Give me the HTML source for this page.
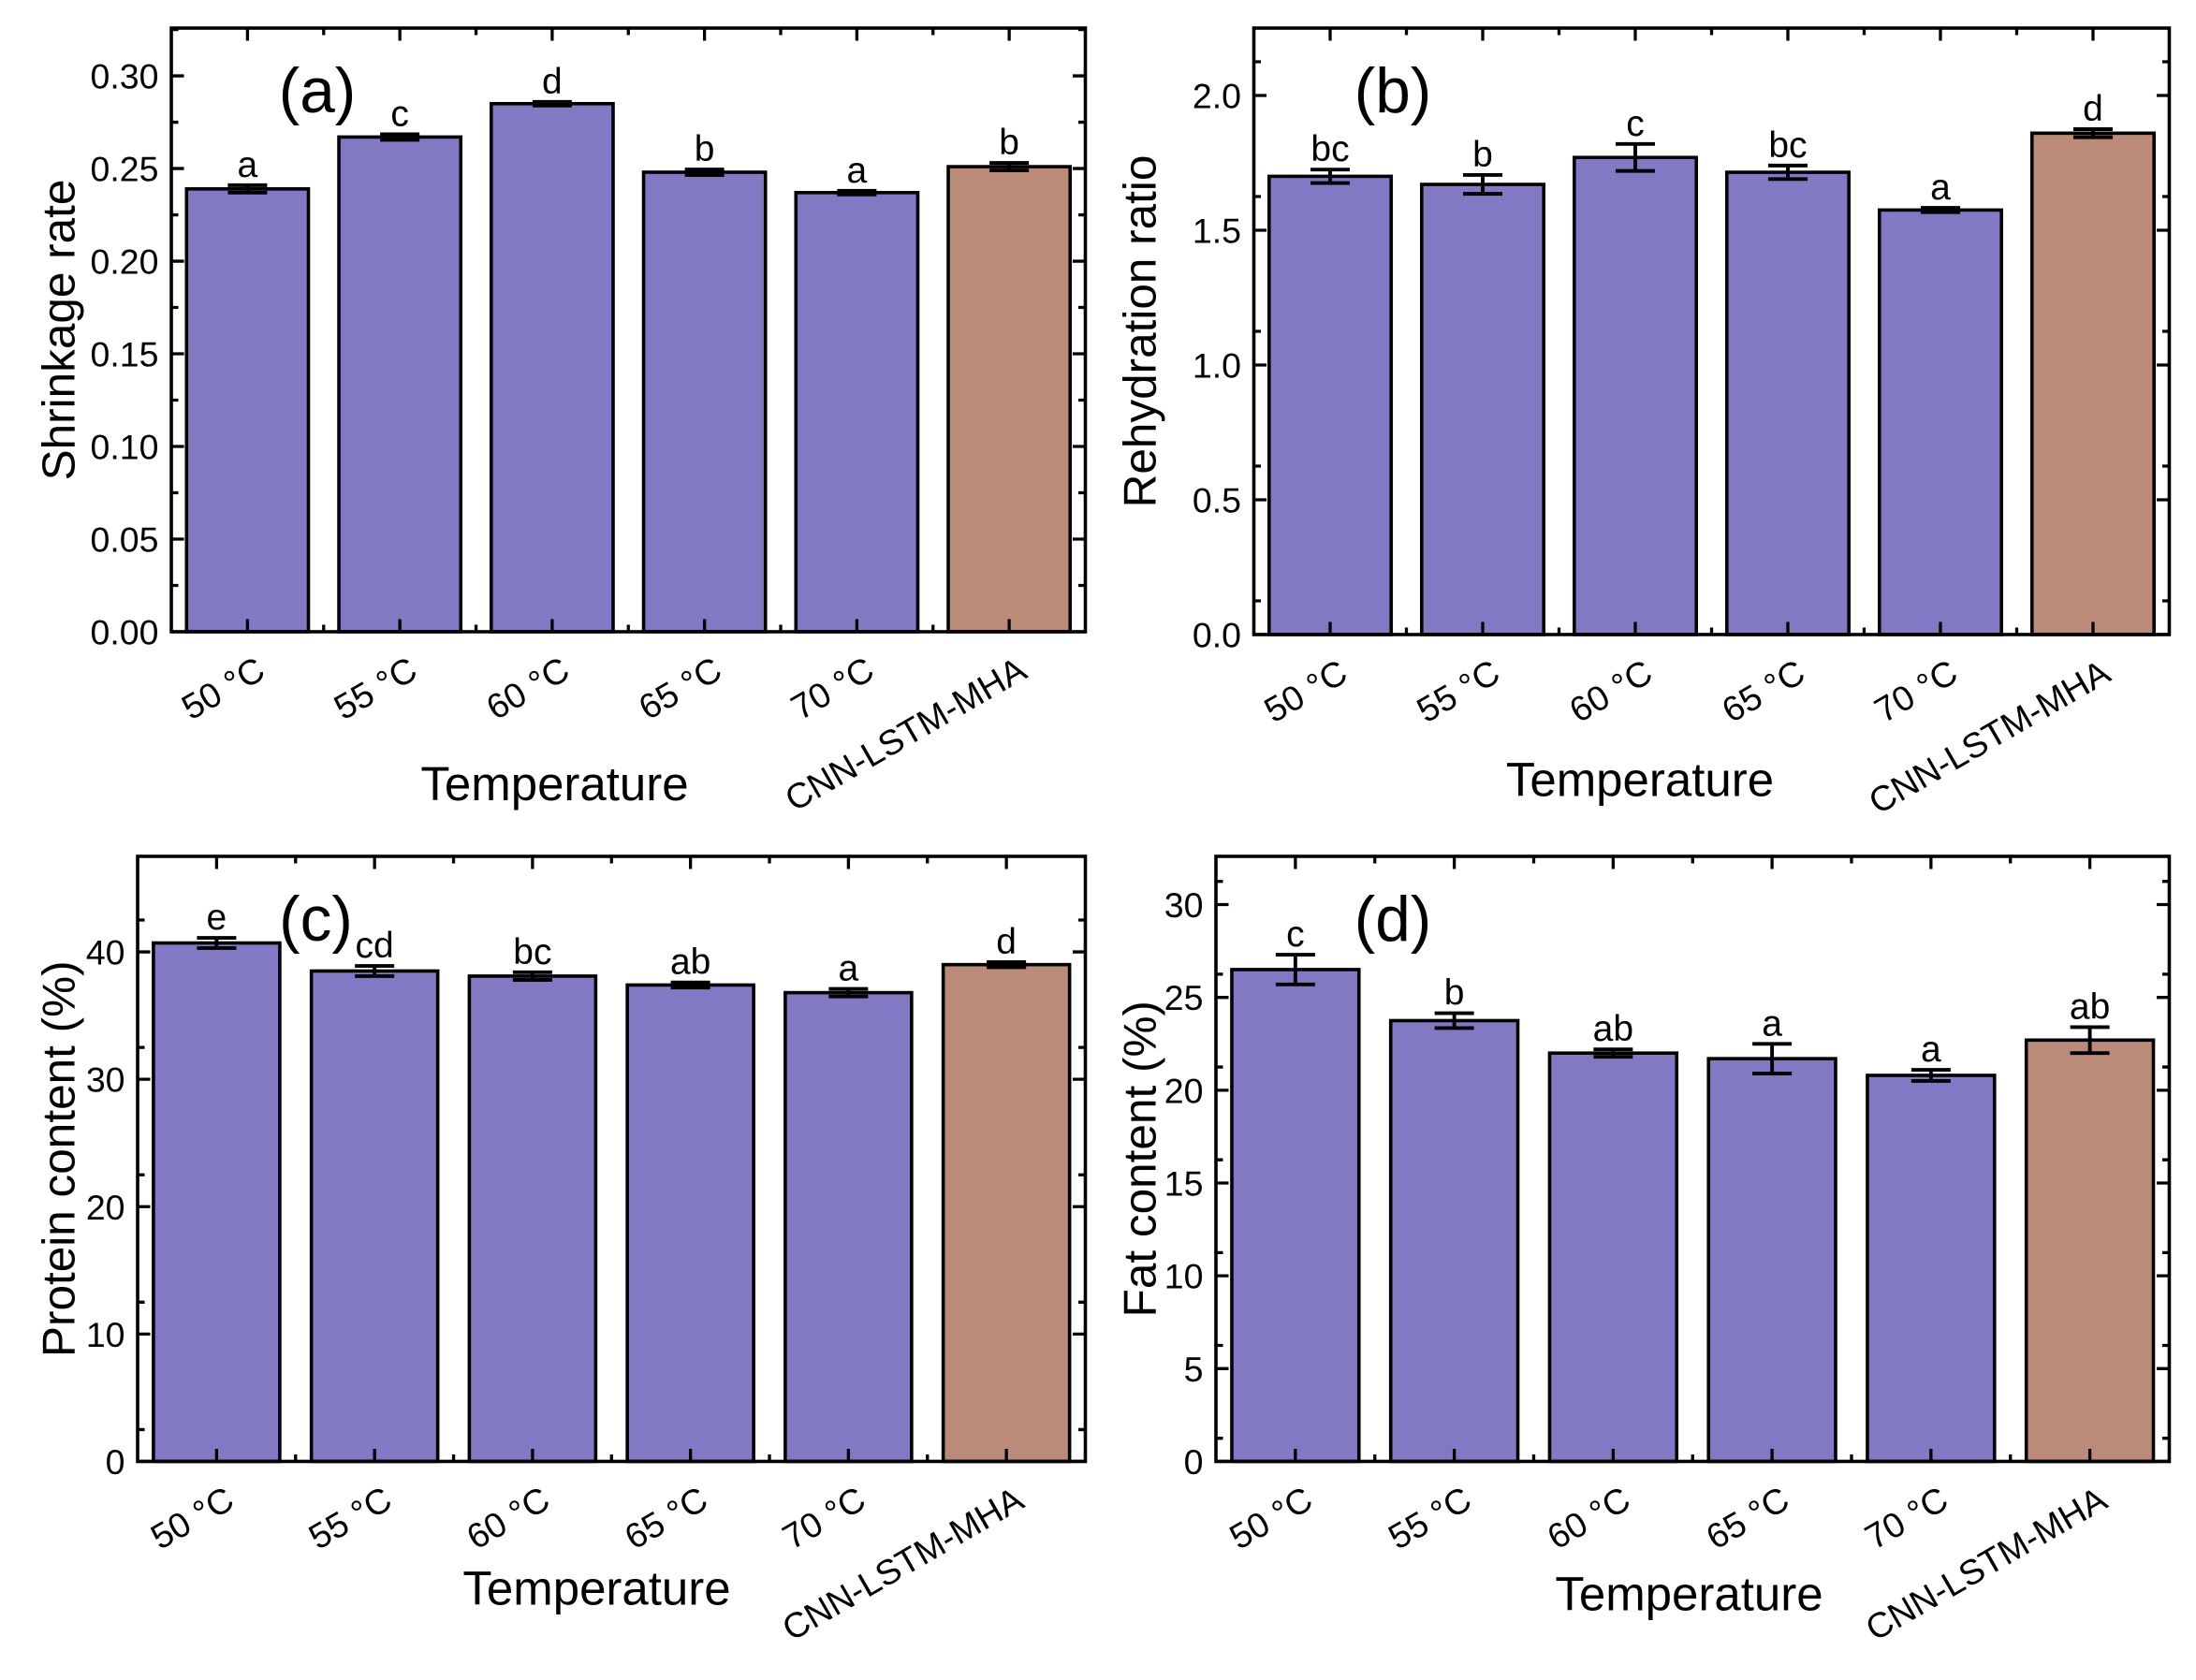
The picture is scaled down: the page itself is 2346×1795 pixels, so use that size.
<!DOCTYPE html>
<html><head><meta charset="utf-8">
<style>
html,body{margin:0;padding:0;background:#fff;}
svg{display:block;}
text{font-family:"Liberation Sans",Arial,sans-serif;fill:#000;}
</style></head>
<body>
<svg id="fig" width="2346" height="1795" viewBox="0 0 1564 1196.7" xmlns="http://www.w3.org/2000/svg"></svg>
<script>
const categories = ["50 °C","55 °C","60 °C","65 °C","70 °C","CNN-LSTM-MHA"];
const shrinkValues = [0.239,0.267,0.285,0.248,0.237,0.251];
const shrinkErrors = [0.002,0.0015,0.001,0.0015,0.001,0.002];
const shrinkLetters = ["a","c","d","b","a","b"];
const shrinkTicks = ["0.00","0.05","0.10","0.15","0.20","0.25","0.30"];
const rehydValues = [1.70,1.67,1.77,1.715,1.575,1.86];
const rehydErrors = [0.025,0.035,0.05,0.025,0.008,0.015];
const rehydLetters = ["bc","b","c","bc","a","d"];
const rehydTicks = ["0.0","0.5","1.0","1.5","2.0"];
const proteinValues = [40.7,38.5,38.1,37.4,36.8,39.0];
const proteinErrors = [0.4,0.4,0.3,0.2,0.3,0.2];
const proteinLetters = ["e","cd","bc","ab","a","d"];
const proteinTicks = ["0","10","20","30","40"];
const fatValues = [26.5,23.75,22.0,21.7,20.8,22.7];
const fatErrors = [0.8,0.4,0.2,0.8,0.3,0.7];
const fatLetters = ["c","b","ab","a","a","ab"];
const fatTicks = ["0","5","10","15","20","25","30"];

const NS="http://www.w3.org/2000/svg";
const svg=document.getElementById('fig');
function mk(tag,attrs,parent){const e=document.createElementNS(NS,tag);for(const k in attrs)e.setAttribute(k,attrs[k]);(parent||svg).appendChild(e);return e;}

function panel(cfg){
  const g=mk('g',{});
  
  
  const {x0,x1,y0,y1,ymax}=cfg;
  const ys=v=>y1-(v/ymax)*(y1-y0);
  const slot=(x1-x0)/categories.length;
  const xs=i=>x0+slot*(i+0.5);
  const bw=slot*0.8;
  categories.forEach((c,i)=>{
    const v=cfg.values[i];
    const r=mk('rect',{x:xs(i)-bw/2,y:ys(v),width:bw,height:y1-ys(v),fill:i===5?'#bb8a79':'#8279c4',stroke:'#000','stroke-width':2.4},g);
    
    
    const e=cfg.errors[i];
    const eb=mk('path',{d:`M${xs(i)},${ys(v+e)}V${ys(v-e)}M${xs(i)-14},${ys(v+e)}H${xs(i)+14}M${xs(i)-14},${ys(v-e)}H${xs(i)+14}`,stroke:'#000','stroke-width':2.6,fill:'none'},g);
    
    
    const t=mk('text',{x:xs(i),y:ys(v+e)-6,'text-anchor':'middle','font-size':26},g);
    t.textContent=cfg.letters[i];
    
    
    mk('path',{d:`M${xs(i)},${y1}v-9M${xs(i)},${y0}v9`,stroke:'#000','stroke-width':2.2},g);
    if(i>0) mk('path',{d:`M${x0+slot*i},${y1}v-5M${x0+slot*i},${y0}v5`,stroke:'#000','stroke-width':2.2},g);
    const lbl=mk('text',{x:0,y:0,'text-anchor':'end','font-size':25,transform:`translate(${xs(i)+14},${y1+32}) rotate(-30)`},g);
    lbl.textContent=c;
    
    
  });
  cfg.ticks.forEach((tl,k)=>{
    const v=parseFloat(tl), y=ys(v);
    mk('path',{d:`M${x0},${y}h9M${x1},${y}h-9`,stroke:'#000','stroke-width':2.2},g);
    const hv=v+cfg.step/2;
    if(hv<ymax){const yh=ys(hv);mk('path',{d:`M${x0},${yh}h5M${x1},${yh}h-5`,stroke:'#000','stroke-width':2.2},g);}
    const t=mk('text',{x:x0-9,y:y+9,'text-anchor':'end','font-size':25},g);
    t.textContent=tl;
    
    
  });
  const box=mk('rect',{x:x0,y:y0,width:x1-x0,height:y1-y0,fill:'none',stroke:'#000','stroke-width':2.4},g);
  
  
  const yt=mk('text',{x:0,y:0,'text-anchor':'middle','font-size':33,transform:`translate(${cfg.ytx},${(y0+y1)/2}) rotate(-90)`},g);
  yt.textContent=cfg.ytitle;
  
  
  const xt=mk('text',{x:cfg.xtx,y:cfg.xty,'text-anchor':'middle','font-size':34},g);
  xt.textContent='Temperature';
  
  
  const pl=mk('text',{x:cfg.plx,y:y0+60,'text-anchor':'middle','font-size':45},g);
  pl.textContent='('+cfg.id+')';
  
  
}
panel({id:'a',x0:122,x1:773,y0:20,y1:450,ymax:0.3258,step:0.05,values:shrinkValues,errors:shrinkErrors,letters:shrinkLetters,ticks:shrinkTicks,ytitle:'Shrinkage rate',ytx:53,xtx:395,xty:570,plx:226});
panel({id:'b',x0:893,x1:1545,y0:20,y1:452,ymax:2.25,step:0.25,values:rehydValues,errors:rehydErrors,letters:rehydLetters,ticks:rehydTicks,ytitle:'Rehydration ratio',ytx:823,xtx:1168,xty:567,plx:992});
panel({id:'c',x0:98,x1:773,y0:610,y1:1041,ymax:47.5,step:5,values:proteinValues,errors:proteinErrors,letters:proteinLetters,ticks:proteinTicks,ytitle:'Protein content (%)',ytx:53,xtx:425,xty:1143,plx:225});
panel({id:'d',x0:866,x1:1545,y0:610,y1:1041,ymax:32.6,step:2.5,values:fatValues,errors:fatErrors,letters:fatLetters,ticks:fatTicks,ytitle:'Fat content (%)',ytx:823,xtx:1203,xty:1147,plx:992});
</script>
</body></html>
